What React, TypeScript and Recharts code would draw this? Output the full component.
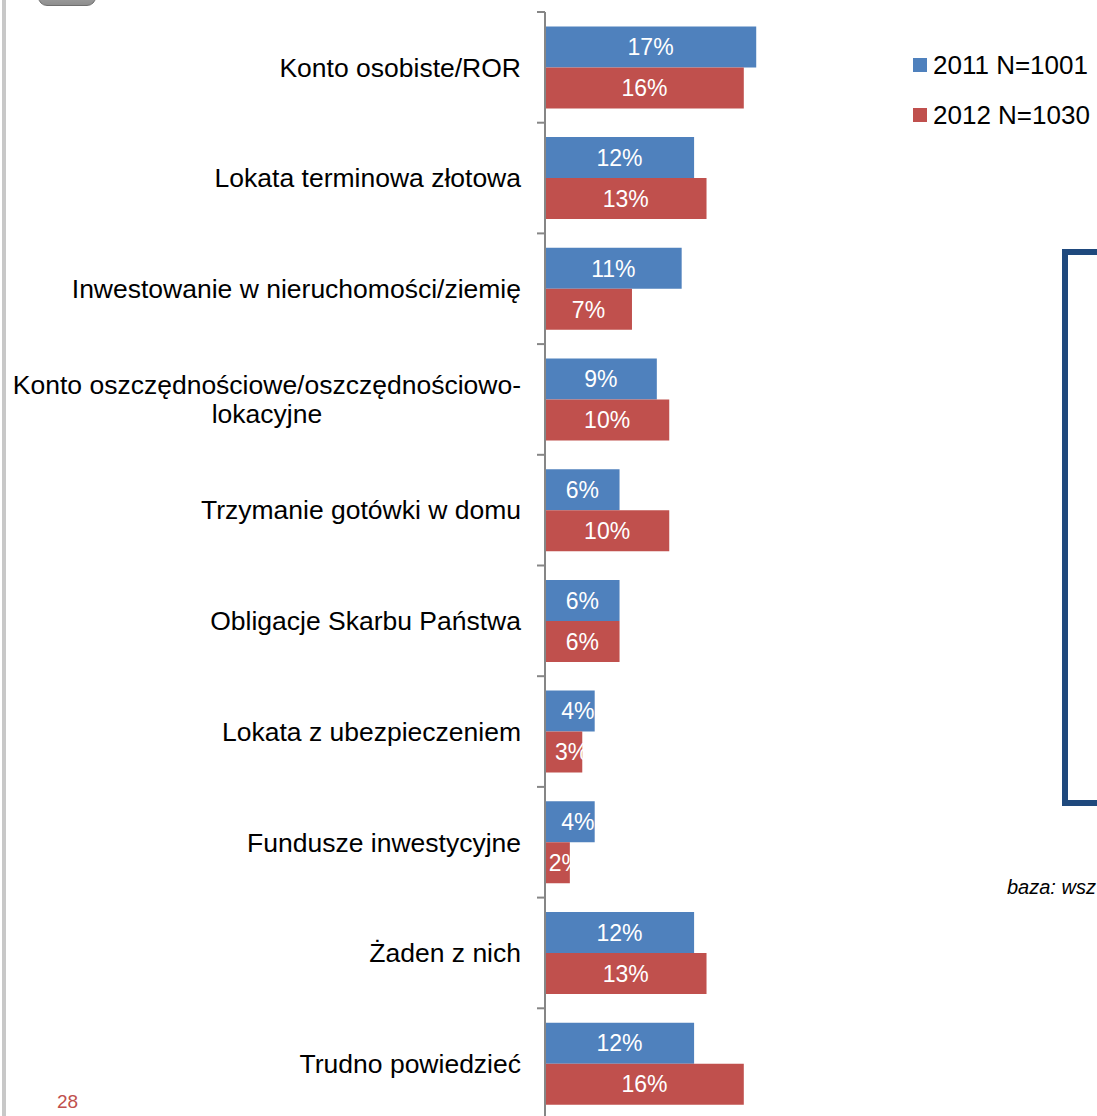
import React from "react";
import { BarChart, Bar, XAxis, YAxis, LabelList } from "recharts";

const categories = [
  "Konto osobiste/ROR",
  "Lokata terminowa złotowa",
  "Inwestowanie w nieruchomości/ziemię",
  "Konto oszczędnościowe/oszczędnościowo-\nlokacyjne",
  "Trzymanie gotówki w domu",
  "Obligacje Skarbu Państwa",
  "Lokata z ubezpieczeniem",
  "Fundusze inwestycyjne",
  "Żaden z nich",
  "Trudno powiedzieć",
];
const values2011 = [17, 12, 11, 9, 6, 6, 4, 4, 12, 12];
const values2012 = [16, 13, 7, 10, 10, 6, 3, 2, 13, 16];
const seriesNames = ["2011 N=1001", "2012 N=1030"];

const data = categories.map((name, i) => ({
  name,
  y2011: values2011[i],
  y2012: values2012[i],
}));

const FONT = "'Liberation Sans', Arial, sans-serif";
const BLUE = "#4F81BD";
const RED = "#C0504D";
const AXIS = "#868686";
const seriesColors = [BLUE, RED];

const W = 1097;
const H = 1130;
const M = { top: 12, right: 55, bottom: 11, left: 0 };
const BAND = (H - M.top - M.bottom) / categories.length;

let ctx: CanvasRenderingContext2D | null = null;
const measure = (s: string, font: string) => {
  if (!ctx) ctx = document.createElement("canvas").getContext("2d");
  if (!ctx) return s.length * 13;
  ctx.font = font;
  return ctx.measureText(s).width;
};

const CatTick = (props: any) => {
  const { x, y, payload } = props;
  const lines: string[] = String(payload.value).split("\n");
  const fs = 26.5;
  const top = y - BAND / 2;
  let texts;
  if (lines.length === 1) {
    texts = (
      <text x={x} y={y} dy="0.35em" textAnchor="end" fontSize={fs} fill="#000" fontFamily={FONT}>
        {lines[0]}
      </text>
    );
  } else {
    const w0 = measure(lines[0], `${fs}px ${FONT}`);
    const cx = x - w0 / 2;
    const lh = 29;
    texts = (
      <text fontSize={fs} fill="#000" fontFamily={FONT}>
        {lines.map((l, i) => (
          <tspan key={i} x={cx} y={y + (i - (lines.length - 1) / 2) * lh} dy="0.35em" textAnchor="middle">
            {l}
          </tspan>
        ))}
      </text>
    );
  }
  return (
    <g>
      <line x1={x + 16} x2={x + 24} y1={top} y2={top} stroke={AXIS} strokeWidth={2} />
      {texts}
    </g>
  );
};

const BarLabel = (props: any) => {
  const { x, y, width, height, value } = props;
  let cx = x + width / 2;
  if (width < 60) cx += 8;
  return (
    <text x={cx} y={y + height / 2} dy="0.36em" textAnchor="middle" fontSize={23} fill="#fff" fontFamily={FONT}>
      {value}%
    </text>
  );
};

export default function App() {
  return (
    <div
      style={{
        position: "absolute",
        left: 0,
        top: 0,
        width: W,
        height: 1116,
        overflow: "hidden",
        background: "#fff",
        fontFamily: FONT,
      }}
    >
      <div style={{ position: "absolute", left: 2, top: 0, width: 4, height: 1116, background: "#c8c8c8" }} />
      <div
        style={{
          position: "absolute",
          left: 38,
          top: -20,
          width: 56,
          height: 24,
          borderRadius: "0 0 9px 9px",
          background: "linear-gradient(#bdbdbd, #8e8e8e)",
          border: "1px solid #6f6f6f",
        }}
      />
      <BarChart
        width={W}
        height={H}
        data={data}
        layout="vertical"
        margin={M}
        barCategoryGap="13%"
        barGap={0}
      >
        <XAxis type="number" domain={[0, 40]} hide />
        <YAxis
          type="category"
          dataKey="name"
          width={545}
          axisLine={{ stroke: AXIS, strokeWidth: 2 }}
          tickLine={false}
          tickSize={8}
          tickMargin={16}
          interval={0}
          tick={<CatTick />}
        />
        <Bar dataKey="y2011" name={seriesNames[0]} fill={BLUE} isAnimationActive={false}>
          <LabelList dataKey="y2011" content={<BarLabel />} />
        </Bar>
        <Bar dataKey="y2012" name={seriesNames[1]} fill={RED} isAnimationActive={false}>
          <LabelList dataKey="y2012" content={<BarLabel />} />
        </Bar>
      </BarChart>
      <div style={{ position: "absolute", left: 913, top: 40, fontSize: 26 }}>
        {seriesNames.map((n, i) => (
          <div key={n} style={{ display: "flex", alignItems: "center", height: 50 }}>
            <span
              style={{ width: 14, height: 14, background: seriesColors[i], marginRight: 6, display: "inline-block" }}
            />
            <span style={{ color: "#000", whiteSpace: "nowrap" }}>{n}</span>
          </div>
        ))}
      </div>
      <div
        style={{
          position: "absolute",
          left: 1062,
          top: 249,
          width: 120,
          height: 545,
          border: "6px solid #1F497D",
        }}
      />
      <div
        style={{
          position: "absolute",
          left: 1007,
          top: 876,
          fontSize: 20,
          fontStyle: "italic",
          whiteSpace: "nowrap",
          color: "#000",
        }}
      >
        baza: wsz
      </div>
      <div style={{ position: "absolute", left: 57, top: 1091, fontSize: 19, color: RED }}>28</div>
    </div>
  );
}
